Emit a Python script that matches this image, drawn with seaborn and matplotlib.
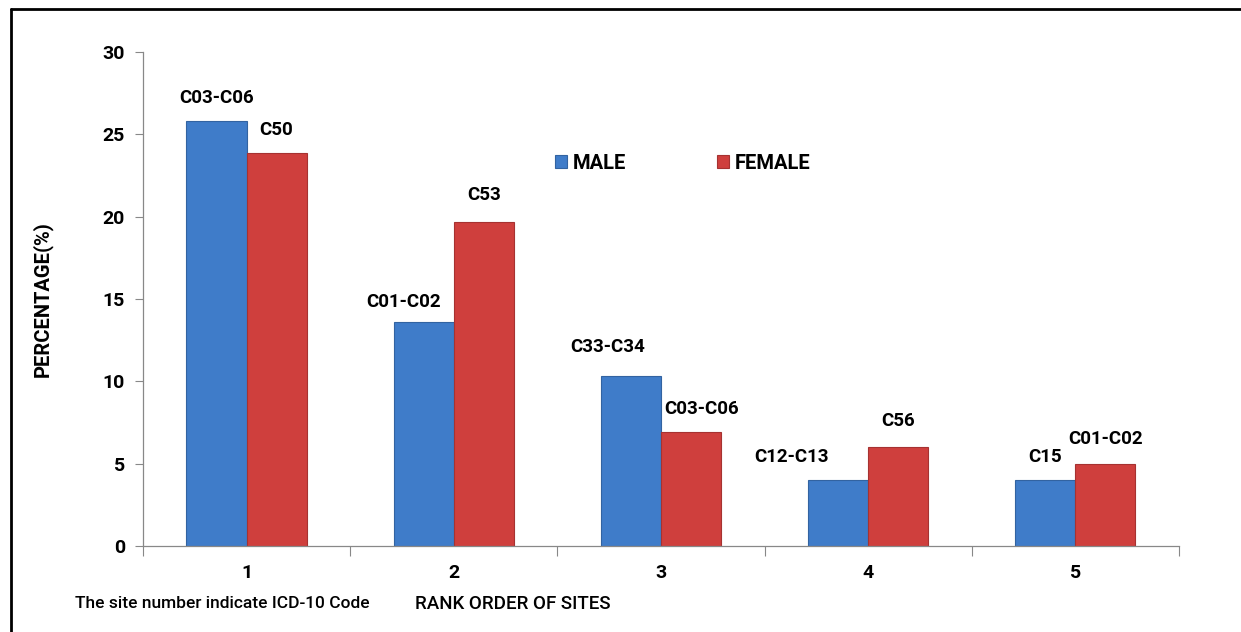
import numpy as np
import pandas as pd
import matplotlib
matplotlib.use('Agg')
import matplotlib.pyplot as plt
import seaborn as sns

# data
ranks = ['1', '2', '3', '4', '5']
male_pct = [25.8, 13.6, 10.35, 4.0, 4.0]
female_pct = [23.85, 19.7, 6.95, 6.0, 4.95]
male_codes = ['C03-C06', 'C01-C02', 'C33-C34', 'C12-C13', 'C15']
female_codes = ['C50', 'C53', 'C03-C06', 'C56', 'C01-C02']

df = pd.DataFrame({
    'rank': ranks * 2,
    'pct': male_pct + female_pct,
    'sex': ['MALE'] * 5 + ['FEMALE'] * 5,
})

sns.set_style('white')
plt.rcParams['font.family'] = ['Roboto', 'DejaVu Sans']
plt.rcParams['font.weight'] = 'bold'
plt.rcParams['text.color'] = 'black'
plt.rcParams['xtick.labelcolor'] = 'black'
plt.rcParams['ytick.labelcolor'] = 'black'
plt.rcParams['axes.labelcolor'] = 'black'

fig = plt.figure(figsize=(12.41, 6.32), dpi=100)
ax = fig.add_axes([0.1152, 0.1361, 0.8348, 0.7816])

palette = {'MALE': '#3f7cc9', 'FEMALE': '#cf3f3d'}
sns.barplot(data=df, x='rank', y='pct', hue='sex', palette=palette,
            width=0.58, saturation=1, ax=ax, edgecolor='none')

# slight darker rim, like the excel 3d bars
for bar in ax.patches:
    fc = bar.get_facecolor()
    bar.set_edgecolor(tuple(c * 0.8 for c in fc[:3]))
    bar.set_linewidth(0.8)

ax.set_ylim(0, 30)
ax.set_xlim(-0.5, 4.5)
ax.set_yticks(np.arange(0, 31, 5))
ax.tick_params(axis='y', labelsize=14, length=6, width=0.8, color='#888888', pad=7, left=True)

# category labels in the middle, tick marks on the borders between them
ax.set_xticks(np.arange(-0.5, 5, 1))
ax.set_xticklabels([''] * 6)
ax.tick_params(axis='x', which='major', length=7, width=0.8, color='#888888', bottom=True)
ax.set_xticks(range(5), minor=True)
ax.set_xticklabels(ranks, minor=True)
ax.tick_params(axis='x', which='minor', length=0, labelsize=14, pad=13)
for lab in ax.get_xticklabels(minor=True) + ax.get_yticklabels():
    lab.set_fontweight('bold')

for s in ['top', 'right']:
    ax.spines[s].set_visible(False)
for s in ['left', 'bottom']:
    ax.spines[s].set_color('#888888')
    ax.spines[s].set_linewidth(0.9)

ax.set_xlabel('')
ax.set_ylabel('PERCENTAGE(%)', fontsize=14.5, fontweight='bold')
ax.yaxis.set_label_coords(-0.0875, 0.5)

# code labels above the bars (offsets in pixels, as placed in the original)
offsets_m = [(0, 23), (-20, 20), (-23, 29), (-47, 23), (0, 23)]
offsets_f = [(0, 23), (0, 27), (11, 23), (0, 26), (0, 25)]
n = len(ranks)
bars = ax.patches[:2 * n]
for i in range(n):
    for bar, code, off in [(bars[i], male_codes[i], offsets_m[i]),
                           (bars[n + i], female_codes[i], offsets_f[i])]:
        x = bar.get_x() + bar.get_width() / 2
        y = bar.get_height()
        ax.annotate(code, (x, y), xytext=off, textcoords='offset pixels',
                    ha='center', va='center', fontsize=13.5, fontweight='bold')

leg = ax.legend(loc='center left', bbox_to_anchor=(0.38, 0.775), ncol=2,
                frameon=False, fontsize=14.5, handlelength=0.6, handleheight=0.6,
                handletextpad=0.3, columnspacing=4.5)
for t in leg.get_texts():
    t.set_fontweight('bold')

fig.text(75 / 1241, 1 - 604 / 632, 'The site number indicate ICD-10 Code',
         fontsize=12.5, fontweight='medium', va='center', ha='left')
fig.text(415 / 1241, 1 - 604 / 632, 'RANK ORDER OF SITES',
         fontsize=13.5, fontweight='medium', va='center', ha='left')

# outer frame (left and top edges visible in the original)
fig.add_artist(plt.Line2D([11 / 1241, 11 / 1241], [0, 1 - 9 / 632],
                          transform=fig.transFigure, color='black', lw=2))
fig.add_artist(plt.Line2D([11 / 1241, 1], [1 - 9 / 632, 1 - 9 / 632],
                          transform=fig.transFigure, color='black', lw=2))

fig.savefig('out.png', dpi=100)
